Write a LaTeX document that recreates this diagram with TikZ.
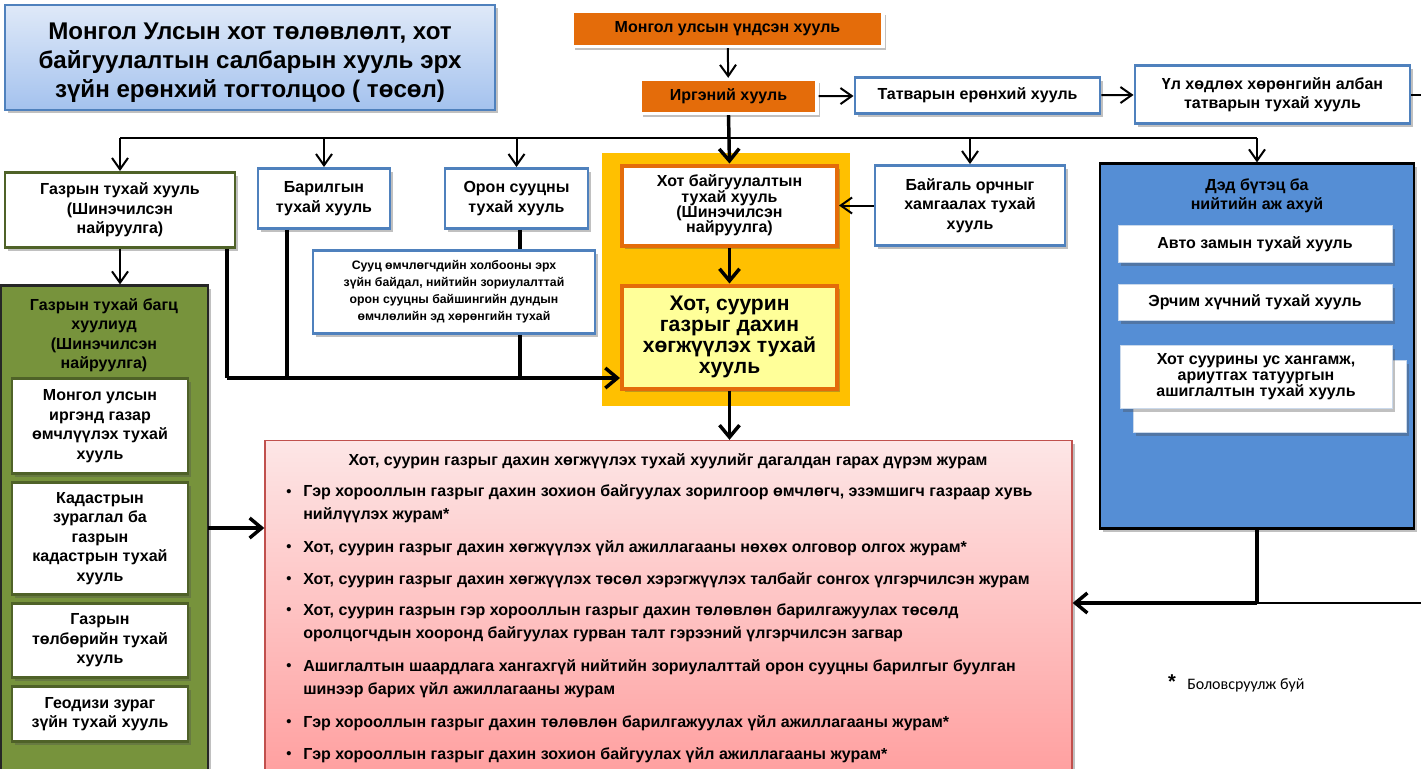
\documentclass[tikz,border=0pt]{standalone}
\usepackage{fontspec}
\setmainfont{Liberation Sans}
\newfontfamily\calib{Carlito}
\usetikzlibrary{arrows.meta,shadows}
\definecolor{orng}{HTML}{E46C0A}
\definecolor{bblue}{HTML}{4F81BD}
\definecolor{ogreen}{HTML}{4F6228}
\definecolor{bagfill}{HTML}{77933C}
\definecolor{gold}{HTML}{FFC000}
\definecolor{lyellow}{HTML}{FFFF99}
\definecolor{dedfill}{HTML}{558ED5}
\definecolor{pinkb}{HTML}{C0504D}
\definecolor{pinktop}{HTML}{FDE6E6}
\definecolor{pinkbot}{HTML}{FF9A9A}
\definecolor{titletop}{HTML}{DFE9F8}
\definecolor{titlebot}{HTML}{A4C2EE}
% \bx{name}{style}{x1}{y1}{x2}{y2}{text}
\newcommand\bx[7]{\node[#2,minimum width={(#5-#3)*0.75pt},minimum height={(#6-#4)*0.75pt}] (#1) at ({(#3+#5)/2},{(#4+#6)/2+1.5}) {#7};}
\tikzset{
  shad/.style={drop shadow={shadow xshift=2.5pt,shadow yshift=-2.5pt,opacity=0.35,fill=black!70}},
  fnorm/.style={font=\fontsize{12}{14.6}\selectfont\bfseries},
  base/.style={inner sep=0pt,align=center,fnorm},
  titlebox/.style={inner sep=0pt,draw=bblue,line width=1.5pt,top color=titletop,bottom color=titlebot,shad},
  titletxt/.style={inner sep=0pt,align=center,font=\fontsize{18.1}{21.75}\selectfont\bfseries},
  orbox/.style={base,fill=orng,draw=white,line width=2.5pt,shad},
  bluebox/.style={base,fill=white,draw=bblue,line width=2.2pt,shad},
  greenbox/.style={base,fill=white,draw=ogreen,line width=2.2pt,shad},
  hotbox/.style={base,fill=white,draw=orng,line width=3pt,shad},
  innerw/.style={base,fill=white,draw=bblue!30,line width=0.6pt,shad},
  gsub/.style={base,fill=white,draw=ogreen,line width=1.8pt,shad},
  pinktxt/.style={inner sep=0pt,anchor=west,align=left,font=\fontsize{12}{17.25}\selectfont\bfseries},
  bul/.style={inner sep=0pt,font=\fontsize{11}{12}\selectfont\bfseries},
  thinln/.style={line width=1.5pt},
  thickln/.style={line width=2.6pt},
  tarr/.style={thinln,-{Straight Barb[length=8.5pt,width=12pt]}},
  karr/.style={thickln,-{Straight Barb[length=9pt,width=15pt]}},
}
\begin{document}
\begin{tikzpicture}[x=0.75pt,y=-0.75pt]
\useasboundingbox (0,0) rectangle (1421,768);
\fill[white] (0,0) rectangle (1421,768);
\begin{scope}
\clip (0,0) rectangle (1421,768);

% title
\node[titlebox,minimum width={490*0.75pt},minimum height={105*0.75pt}] (title) at (250,57.5) {};
\node[titletxt] (titlet) at (250,63) {Монгол Улсын хот төлөвлөлт, хот\\байгуулалтын салбарын хууль эрх\\зүйн ерөнхий тогтолцоо ( төсөл)};

% top chain
\bx{const}{orbox}{572}{10}{883}{45}{Монгол улсын үндсэн хууль}
\bx{irg}{orbox}{640}{78}{817}{112}{Иргэний хууль}
\bx{tax}{bluebox}{855}{76}{1100}{112}{Татварын ерөнхий хууль}
\bx{ul}{bluebox}{1135}{64}{1410}{122}{Үл хөдлөх хөрөнгийн албан\\татварын тухай хууль}

% yellow block
\bx{ysq}{fill=gold,inner sep=0pt}{602}{151}{850}{404}{}
\bx{hb}{hotbox,font=\fontsize{12}{11.6}\selectfont\bfseries}{622}{164}{837}{244}{Хот байгуулалтын\\тухай хууль\\(Шинэчилсэн\\найруулга)}
\bx{hs}{hotbox,fill=lyellow,font=\fontsize{15.8}{15.75}\selectfont\bfseries}{622}{284}{837}{387}{Хот, суурин\\газрыг дахин\\хөгжүүлэх тухай\\хууль}

% second row
\bx{gaz}{greenbox}{5}{171}{235}{246}{Газрын тухай хууль\\(Шинэчилсэн\\найруулга)}
\bx{bar}{bluebox}{258}{167}{390}{227}{Барилгын\\тухай хууль}
\bx{oron}{bluebox}{445}{167}{588}{227}{Орон сууцны\\тухай хууль}
\bx{suuts}{bluebox,font=\fontsize{9.2}{12.75}\selectfont\bfseries}{313}{249}{595}{332}{Сууц өмчлөгчдийн холбооны эрх\\зүйн байдал, нийтийн зориулалттай\\орон сууцны байшингийн дундын\\өмчлөлийн эд хөрөнгийн тухай}
\bx{bay}{bluebox}{875}{164}{1065}{244}{Байгаль орчныг\\хамгаалах тухай\\хууль}

% infrastructure block
\bx{ded}{fill=dedfill,draw=black,line width=1.6pt,inner sep=0pt,shad}{1100}{162}{1414}{527}{}
\node[fnorm,align=center,inner sep=0pt] (dedt) at (1257,196) {Дэд бүтэц ба\\нийтийн аж ахуй};
\bx{avto}{innerw}{1118}{224}{1392}{261}{Авто замын тухай хууль}
\bx{erch}{innerw}{1118}{283}{1392}{319}{Эрчим хүчний тухай хууль}
\bx{back}{innerw}{1133}{359}{1406}{431}{}
\bx{us}{innerw,font=\fontsize{12}{12}\selectfont\bfseries}{1120}{344}{1392}{407}{Хот суурины ус хангамж,\\ариутгах татуургын\\ашиглалтын тухай хууль}

% green land package
\bx{bag}{fill=bagfill,draw=black!85,line width=1.6pt,inner sep=0pt,shad}{1}{284}{208}{799}{}
\node[fnorm,align=center,inner sep=0pt] (bagt) at (104,335) {Газрын тухай багц\\хуулиуд\\(Шинэчилсэн\\найруулга)};
\bx{g1}{gsub}{12}{377}{188}{472}{Монгол улсын\\иргэнд газар\\өмчлүүлэх тухай\\хууль}
\bx{g2}{gsub}{12}{481}{188}{593}{Кадастрын\\зураглал ба\\газрын\\кадастрын тухай\\хууль}
\bx{g3}{gsub}{12}{602}{188}{676}{Газрын\\төлбөрийн тухай\\хууль}
\bx{g4}{gsub}{12}{685}{188}{740}{Геодизи зураг\\зүйн тухай хууль}

% pink rules box
\bx{pink}{draw=pinkb,line width=1pt,top color=pinktop,bottom color=pinkbot,inner sep=0pt,shad}{265}{439}{1072}{799}{}
\node[inner sep=0pt,font=\fontsize{12}{14}\selectfont\bfseries] (pt) at (668,461) {Хот, суурин газрыг дахин хөгжүүлэх тухай хуулийг дагалдан гарах дүрэм журам};
\node[bul] (b1) at (289,493) {•};
\node[pinktxt] (p1) at (303,504) {Гэр хорооллын газрыг дахин зохион байгуулах зорилгоор өмчлөгч, эзэмшигч газраар хувь\\нийлүүлэх журам*};
\node[bul] (b2) at (289,548) {•};
\node[pinktxt] (p2) at (303,548) {Хот, суурин газрыг дахин хөгжүүлэх үйл ажиллагааны нөхөх олговор олгох журам*};
\node[bul] (b3) at (289,580) {•};
\node[pinktxt] (p3) at (303,580) {Хот, суурин газрыг дахин хөгжүүлэх төсөл хэрэгжүүлэх талбайг сонгох үлгэрчилсэн журам};
\node[bul] (b4) at (289,611) {•};
\node[pinktxt] (p4) at (303,623) {Хот, суурин газрын гэр хорооллын газрыг дахин төлөвлөн барилгажуулах төсөлд\\оролцогчдын хооронд байгуулах гурван талт гэрээний үлгэрчилсэн загвар};
\node[bul] (b5) at (289,667) {•};
\node[pinktxt] (p5) at (303,679) {Ашиглалтын шаардлага хангахгүй нийтийн зориулалттай орон сууцны барилгыг буулган\\шинээр барих үйл ажиллагааны журам};
\node[bul] (b6) at (289,723) {•};
\node[pinktxt] (p6) at (303,723) {Гэр хорооллын газрыг дахин төлөвлөн барилгажуулах үйл ажиллагааны журам*};
\node[bul] (b7) at (289,755) {•};
\node[pinktxt] (p7) at (303,755) {Гэр хорооллын газрыг дахин зохион байгуулах үйл ажиллагааны журам*};

% footnote
\node[inner sep=0pt,font=\fontsize{15}{15}\selectfont\bfseries] (star) at (1172,682) {*};
\node[inner sep=0pt,anchor=west,font=\calib\fontsize{12}{14}\selectfont] (foot) at (1187,685) {Боловсруулж буй};

% ---------- connectors ----------
\draw[tarr] (const) -- (irg);
\draw[tarr] (irg) -- (tax);
\draw[tarr] (tax) -- (ul);
\coordinate (edge1) at (1421,95);
\draw[thinln] (ul.east |- edge1) -- (edge1);

% bus
\coordinate (bus) at (727,138);
\draw[thinln] (gaz.north |- bus) -- (ded.north |- bus);
\draw[tarr] (gaz.north |- bus) -- (gaz.north);
\draw[tarr] (bar.north |- bus) -- (bar.north);
\draw[tarr] (oron.north |- bus) -- (oron.north);
\draw[tarr] (bay.north |- bus) -- (bay.north);
\draw[tarr] (ded.north |- bus) -- (ded.north);
\draw[karr] (irg.south) -- (hb.north);
\draw[tarr] (bay.west) -- (hb.east);
\draw[karr] (hb.south) -- (hs.north);
\draw[karr] (hs.south) -- (pink.north -| hs.south);

% left collectors
\coordinate (c1) at (227,378);
\coordinate (c2) at (287,378);
\coordinate (c3) at (520,378);
\draw[thickln] (gaz.south -| c1) -- (c1);
\draw[thickln] (bar.south -| c2) -- (c2);
\draw[thickln] (oron.south -| c3) -- (suuts.north -| c3);
\draw[thickln] (suuts.south -| c3) -- (c3);
\draw[karr] (c1) -- (hs.west |- c1);

% land
\draw[tarr] (gaz.south) -- (gaz.south |- bag.north);
\coordinate (gp) at (208,528);
\draw[karr] (gp) -- (pink.west |- gp);

% infrastructure to rules
\coordinate (dj) at (1257,603);
\coordinate (edge2) at (1421,603);
\draw[thinln] (edge2) -- (dj);
\draw[thickln] (ded.south -| dj) -- (dj);
\draw[karr] (dj) -- (pink.east |- dj);
\end{scope}
\end{tikzpicture}
\end{document}
